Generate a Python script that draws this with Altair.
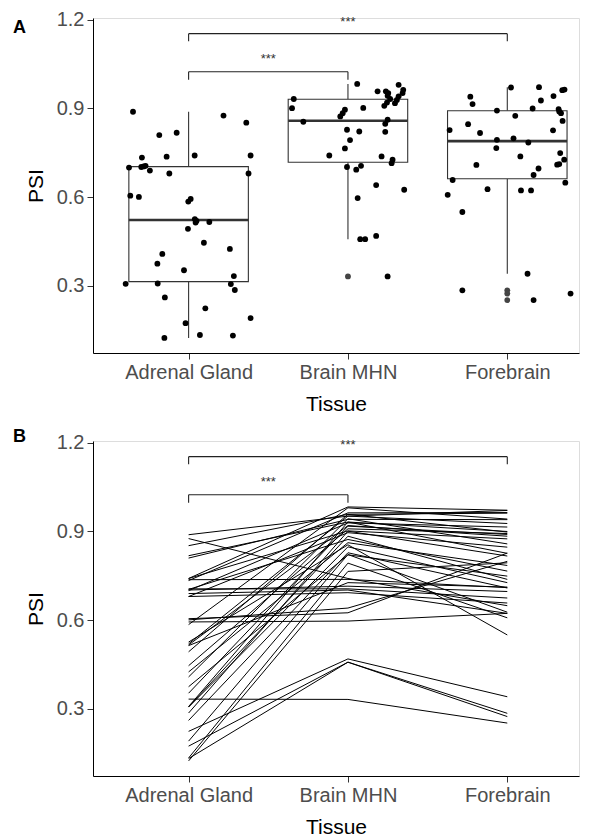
import altair as alt
import pandas as pd

tissues = ["Adrenal Gland", "Brain MHN", "Forebrain"]

# PSI per sample (same sample order in every tissue)
psi_adrenal = [0.889, 0.876, 0.852, 0.818, 0.810, 0.741, 0.741, 0.737, 0.734, 0.706,
               0.704, 0.702, 0.700, 0.690, 0.680, 0.680, 0.605, 0.601, 0.594, 0.585,
               0.526, 0.520, 0.516, 0.514, 0.493, 0.446, 0.425, 0.408, 0.375, 0.353,
               0.333, 0.308, 0.307, 0.306, 0.286, 0.261, 0.224, 0.191, 0.174, 0.134,
               0.132, 0.124]
psi_brain = [0.952, 0.741, 0.958, 0.932, 0.941, 0.983, 0.902, 0.738, 0.963, 0.706,
             0.873, 0.715, 0.929, 0.702, 0.693, 0.896, 0.625, 0.641, 0.597, 0.980,
             0.855, 0.952, 0.920, 0.727, 0.958, 0.909, 0.862, 0.943, 0.821, 0.918,
             0.332, 0.932, 0.884, 0.848, 0.901, 0.828, 0.469, 0.822, 0.458, 0.793,
             0.458, 0.765]
psi_forebrain = [0.971, 0.649, 0.962, 0.900, 0.940, 0.972, 0.875, 0.710, 0.964, 0.675,
                 0.766, 0.697, 0.915, 0.623, 0.658, 0.847, 0.827, 0.799, 0.623, 0.942,
                 0.550, 0.927, 0.884, 0.712, 0.898, 0.893, 0.785, 0.858, 0.749, 0.890,
                 0.252, 0.826, 0.738, 0.727, 0.817, 0.709, 0.341, 0.627, 0.285, 0.608,
                 0.274, 0.794]

# horizontal jitter of each point in panel A (category units)
jit_adrenal = [-0.349, 0.219, 0.362, -0.075, -0.184, 0.038, 0.389, -0.138, -0.293, -0.270,
               -0.282, -0.297, -0.374, -0.243, -0.121, 0.376, -0.366, -0.312, 0.013, -0.002,
               0.039, 0.050, 0.130, 0.044, -0.004, 0.096, 0.259, -0.165, -0.196, -0.029,
               0.284, -0.194, -0.395, 0.265, 0.290, -0.149, 0.105, 0.389, -0.019, 0.071,
               0.278, -0.152]
jit_brain = [0.343, -0.117, 0.186, -0.340, 0.318, 0.058, 0.096, 0.211, 0.347, 0.082,
             -0.048, 0.274, 0.307, -0.006, 0.052, -0.019, 0.353, 0.177, 0.061, 0.318,
             -0.280, 0.253, 0.245, 0.280, 0.238, 0.228, 0.249, 0.249, 0.234, 0.295,
             0.249, 0.265, -0.033, 0.234, -0.351, -0.006, 0.177, 0.071, 0.077, 0.013,
             0.108, -0.019]
jit_forebrain = [0.023, 0.364, 0.345, 0.159, -0.232, 0.199, 0.050, 0.313, 0.359, 0.165,
                 -0.069, 0.196, -0.218, 0.086, -0.343, -0.246, -0.362, 0.039, 0.149, 0.290,
                 -0.282, 0.211, 0.337, 0.326, 0.322, -0.065, 0.132, 0.347, 0.332, 0.326,
                 0.165, 0.287, 0.082, 0.357, -0.171, -0.194, 0.127, -0.124, -0.282, -0.374,
                 0.397, -0.065]

# significance brackets
bracket_from = [1, 1]
bracket_to = [2, 3]
bracket_y = [1.024, 1.153]
bracket_drop = [0.027, 0.026]
bracket_label_y = [1.068, 1.193]
bracket_label = ["***", "***"]

# ---------------------------------------------------------------
rows = []
for i in range(len(psi_adrenal)):
    for pos, (t, vals, jits) in enumerate(
            [(tissues[0], psi_adrenal, jit_adrenal),
             (tissues[1], psi_brain, jit_brain),
             (tissues[2], psi_forebrain, jit_forebrain)], start=1):
        rows.append({"sample": i, "tissue": t, "pos": pos, "psi": vals[i],
                     "xj": pos + jits[i]})
df = pd.DataFrame(rows)

br_rows = []
for a, b, y, d, ly, lab in zip(bracket_from, bracket_to, bracket_y, bracket_drop,
                                bracket_label_y, bracket_label):
    br_rows.append({"x": a, "x2": b, "y": y, "y2": y, "mid": (a + b) / 2,
                    "ly": ly, "lab": lab, "kind": "h"})
    br_rows.append({"x": a, "x2": a, "y": y, "y2": y - d, "mid": (a + b) / 2,
                    "ly": ly, "lab": "", "kind": "v"})
    br_rows.append({"x": b, "x2": b, "y": y, "y2": y - d, "mid": (a + b) / 2,
                    "ly": ly, "lab": "", "kind": "v"})
br = pd.DataFrame(br_rows)

FONT = "Liberation Sans"
W, H = 486, 335
xs = alt.Scale(domain=[0.4, 3.45], nice=False, zero=False)
ys = alt.Scale(domain=[0.073, 1.206], nice=False, zero=False)
label_expr = "['', 'Adrenal Gland', 'Brain MHN', 'Forebrain'][datum.value]"
xaxis = alt.Axis(values=[1, 2, 3], labelExpr=label_expr, title="Tissue", grid=False,
                 domainColor="#000000", tickColor="#333333", tickSize=6,
                 labelColor="#4d4d4d", labelFontSize=20, labelFont=FONT, labelPadding=3,
                 titleFont=FONT, titleFontSize=21, titleFontWeight="normal",
                 titleColor="#000000", titlePadding=11)
yaxis = alt.Axis(values=[0.3, 0.6, 0.9, 1.2], format=".1f", title="PSI", grid=False,
                 domainColor="#000000", tickColor="#333333", tickSize=6,
                 labelColor="#4d4d4d", labelFontSize=20, labelFont=FONT, labelPadding=3,
                 titleFont=FONT, titleFontSize=21, titleFontWeight="normal",
                 titleColor="#000000", titlePadding=10)


def X(f):
    return alt.X(f, type="quantitative", scale=xs, axis=xaxis)


def Y(f):
    return alt.Y(f, type="quantitative", scale=ys, axis=yaxis)


def brackets():
    lines = alt.Chart(br).mark_rule(color="#222222", strokeWidth=1.1).encode(
        x=X("x"), x2="x2:Q", y=Y("y"), y2="y2:Q")
    txt = alt.Chart(br).transform_filter("datum.kind == 'h'").mark_text(
        font=FONT, fontSize=13, color="#333333", baseline="middle").encode(
        x=X("mid"), y=Y("ly"), text="lab:N")
    return lines + txt


def panel_label(s, yoff):
    return alt.Chart(pd.DataFrame({"lab": [s]})).mark_text(
        font=FONT, fontSize=18, fontWeight="bold", color="#000000",
        align="left", baseline="middle").encode(
        x=alt.value(-80), y=alt.value(yoff), text="lab:N")


base = alt.Chart(df)
stats = base.transform_joinaggregate(
    q1="q1(psi)", q3="q3(psi)", med="median(psi)", groupby=["tissue"]
).transform_calculate(
    lo="datum.q1 - 1.5 * (datum.q3 - datum.q1)",
    hi="datum.q3 + 1.5 * (datum.q3 - datum.q1)")

box = stats.transform_filter("datum.psi >= datum.lo && datum.psi <= datum.hi").transform_aggregate(
    wlo="min(psi)", whi="max(psi)", q1="min(q1)", q3="min(q3)", med="min(med)",
    groupby=["tissue", "pos"]
).transform_calculate(xl="datum.pos - 0.375", xr="datum.pos + 0.375")

whisk_lo = box.mark_rule(color="#333333", strokeWidth=1.1).encode(x=X("pos"), y=Y("wlo"), y2="q1:Q")
whisk_hi = box.mark_rule(color="#333333", strokeWidth=1.1).encode(x=X("pos"), y=Y("q3"), y2="whi:Q")
rect = box.mark_rect(fill="white", stroke="#333333", strokeWidth=1.1).encode(
    x=X("xl"), x2="xr:Q", y=Y("q1"), y2="q3:Q")
median = box.mark_rule(color="#333333", strokeWidth=2.6).encode(
    x=X("xl"), x2="xr:Q", y=Y("med"))
outliers = stats.transform_filter("datum.psi < datum.lo || datum.psi > datum.hi").mark_circle(
    color="#444444", size=34, opacity=1).encode(x=X("pos"), y=Y("psi"))
points = base.mark_circle(color="#000000", size=34, opacity=1).encode(x=X("xj"), y=Y("psi"))

panelA = alt.layer(whisk_lo, whisk_hi, rect, median, outliers, points, brackets(),
                   panel_label("A", 10)).properties(width=W, height=H)

lines = base.mark_line(color="#000000", strokeWidth=1.0).encode(
    x=X("pos"), y=Y("psi"), detail="sample:N", order="pos:Q")
panelB = alt.layer(lines, brackets(), panel_label("B", -4)).properties(width=W, height=H)

chart = alt.vconcat(panelA, panelB, spacing=12).properties(
    padding={"left": 4, "top": 1, "right": 3, "bottom": 5}
).configure_view(stroke=None).configure(background="white")

chart.save("out.html", embed_options={"renderer": "svg", "actions": False})
